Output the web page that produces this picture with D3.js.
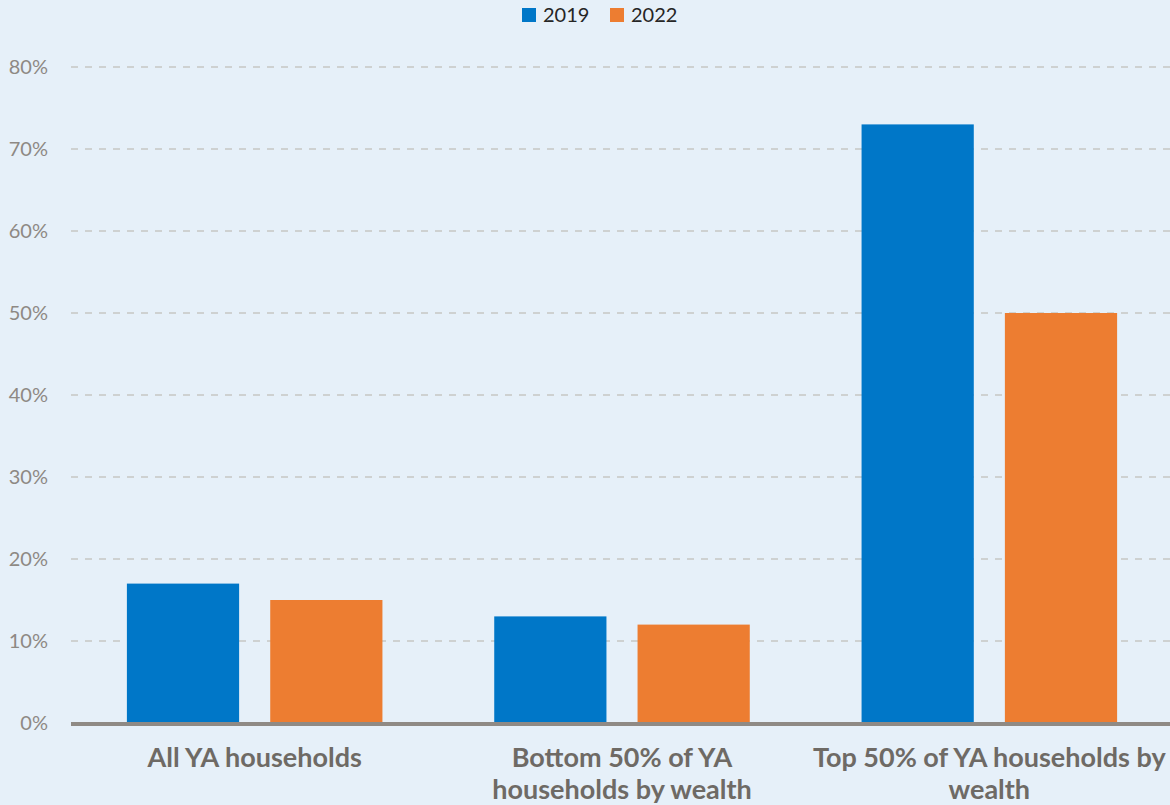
<!DOCTYPE html>
<html>
<head>
<meta charset="utf-8">
<script src="https://cdn.jsdelivr.net/npm/d3@7"></script>
<style>
  html, body { margin: 0; padding: 0; background: #e6f0f9; }
  svg { display: block; }
</style>
</head>
<body>
<svg id="chart" width="1170" height="805"></svg>
<script>
// Share of young-adult households, by group and survey year
const categories = [
  ["All YA households"],
  ["Bottom 50% of YA", "households by wealth"],
  ["Top 50% of YA households by", "wealth"]
];
const seriesNames = ["2019", "2022"];
const values2019 = [17, 13, 73];
const values2022 = [15, 12, 50];
const yTicks = [0, 10, 20, 30, 40, 50, 60, 70, 80];
const colors = ["#0077c8", "#ed7d31"];

const width = 1170, height = 805;
const margin = { top: 67, right: -3, bottom: 82, left: 71 };
const fontFamily = "Lato, 'Open Sans', sans-serif";

const svg = d3.select("#chart");
svg.append("rect").attr("width", width).attr("height", height).attr("fill", "#e6f0f9");

const x0 = d3.scaleBand()
  .domain(d3.range(categories.length))
  .range([margin.left, width - margin.right])
  .paddingInner(0)
  .paddingOuter(0);

const x1 = d3.scaleBand()
  .domain(seriesNames)
  .range([0, x0.bandwidth()])
  .paddingInner(0.217)
  .paddingOuter(0.39);

const y = d3.scaleLinear()
  .domain([0, 80])
  .range([height - margin.bottom, margin.top]);

// Dashed gridlines
const grid = svg.append("g");
grid.selectAll("line")
  .data(yTicks.filter(d => d > 0))
  .join("line")
  .attr("x1", margin.left)
  .attr("x2", width)
  .attr("y1", d => y(d))
  .attr("y2", d => y(d))
  .attr("stroke", "#c6c6c4")
  .attr("stroke-width", 1.5)
  .attr("stroke-dasharray", "7,7");

// Y axis labels
const yAxis = d3.axisLeft(y)
  .tickValues(yTicks)
  .tickFormat(d => d + "%")
  .tickSize(0)
  .tickPadding(23);
const ya = svg.append("g")
  .attr("transform", `translate(${margin.left},0)`)
  .call(yAxis);
ya.select(".domain").remove();
ya.selectAll("text")
  .attr("fill", "#8e8984")
  .style("font-family", fontFamily)
  .style("font-size", "20px");

// Bars
const series = [values2019, values2022];
const groups = svg.append("g").selectAll("g")
  .data(categories.map((c, i) => i))
  .join("g")
  .attr("transform", i => `translate(${x0(i)},0)`);

groups.selectAll("rect")
  .data(i => seriesNames.map((s, k) => ({ key: s, value: series[k][i], k })))
  .join("rect")
  .attr("x", d => x1(d.key))
  .attr("width", x1.bandwidth())
  .attr("y", d => y(d.value))
  .attr("height", d => y(0) - y(d.value))
  .attr("fill", d => colors[d.k]);

// Baseline
svg.append("line")
  .attr("x1", margin.left)
  .attr("x2", width)
  .attr("y1", y(0) + 1)
  .attr("y2", y(0) + 1)
  .attr("stroke", "#8f8a85")
  .attr("stroke-width", 4);

// Category labels
const labels = svg.append("g");
categories.forEach((lines, i) => {
  const t = labels.append("text")
    .attr("x", x0(i) + x0.bandwidth() / 2)
    .attr("y", 767)
    .attr("text-anchor", "middle")
    .attr("fill", "#6e6a65")
    .style("font-family", fontFamily)
    .style("font-weight", "bold")
    .style("font-size", "27px");
  lines.forEach((ln, j) => {
    t.append("tspan")
      .attr("x", x0(i) + x0.bandwidth() / 2)
      .attr("dy", j === 0 ? 0 : 32)
      .text(ln);
  });
});

// Legend
const legend = svg.append("g").attr("transform", "translate(522,8)");
const legendX = [0, 88];
seriesNames.forEach((s, k) => {
  const g = legend.append("g").attr("transform", `translate(${legendX[k]},0)`);
  g.append("rect").attr("width", 14).attr("height", 14).attr("fill", colors[k]);
  g.append("text")
    .attr("x", 21)
    .attr("y", 14)
    .attr("fill", "#262626")
    .style("font-family", fontFamily)
    .style("font-size", "20px")
    .text(s);
});
</script>
</body>
</html>
